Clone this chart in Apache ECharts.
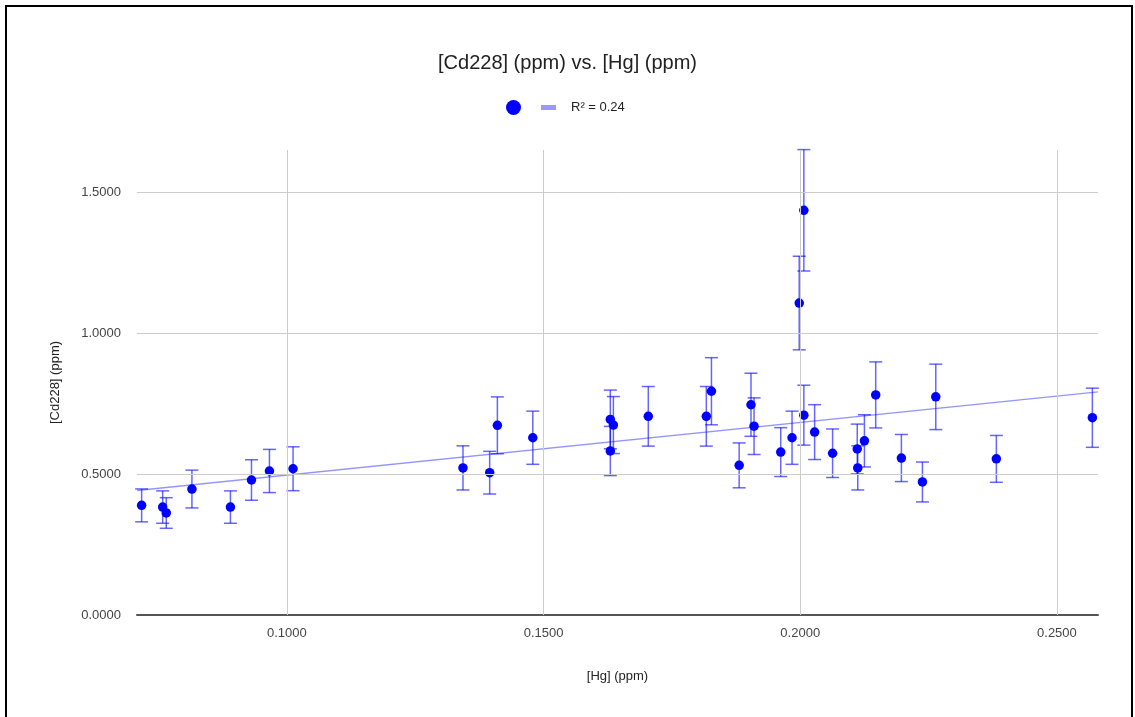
<!DOCTYPE html>
<html>
<head>
<meta charset="utf-8">
<script src="https://cdn.jsdelivr.net/npm/echarts@6/dist/echarts.min.js"></script>
<style>html,body{margin:0;padding:0;background:#fff}#c{width:1135px;height:717px}</style>
</head>
<body>
<div id="c"></div>
<script>
// Hg (ppm) values
const hg = [0.0717,0.0758,0.0765,0.0815,0.0890,0.0931,0.0966,0.1012,0.1343,0.1395,0.1410,0.1479,0.1630,0.1636,0.1630,0.1704,0.1817,0.1827,0.1881,0.1904,0.1910,0.1962,0.1984,0.1998,0.2007,0.2007,0.2028,0.2063,0.2111,0.2112,0.2125,0.2147,0.2197,0.2238,0.2264,0.2382,0.2569];
// Cd228 (ppm) values
const cd = [0.389,0.383,0.362,0.447,0.383,0.479,0.511,0.519,0.522,0.505,0.673,0.629,0.694,0.674,0.582,0.705,0.705,0.794,0.531,0.746,0.670,0.578,0.629,1.107,1.436,0.709,0.649,0.574,0.589,0.522,0.618,0.781,0.557,0.472,0.774,0.554,0.700];
const errorPercent = 0.15;
const xTicks = [0.1, 0.15, 0.2, 0.25];
const yTicks = [0, 0.5, 1.0, 1.5];
const xRange = [0.0708, 0.258];
const yRange = [0, 1.65];
const titleText = '[Cd228] (ppm) vs. [Hg] (ppm)';
const xName = '[Hg] (ppm)';
const yName = '[Cd228] (ppm)';
const seriesName = '[Cd228] (ppm)';
const trendName = 'R² = 0.24';

const pts = hg.map((x, i) => [x, cd[i]]);
// least squares linear trendline
const n = hg.length;
const mx = hg.reduce((a, b) => a + b, 0) / n;
const my = cd.reduce((a, b) => a + b, 0) / n;
let sxy = 0, sxx = 0;
for (let i = 0; i < n; i++) { sxy += (hg[i] - mx) * (cd[i] - my); sxx += (hg[i] - mx) ** 2; }
const slope = sxy / sxx, icpt = my - slope * mx;
const trend = xRange.map(x => [x, icpt + slope * x]);

const font = 'Liberation Sans, Arial, sans-serif';
const gridColor = '#cccccc';
const gridLines = [];
xTicks.forEach(v => gridLines.push({ xAxis: v }));
yTicks.forEach(v => { if (v !== 0) gridLines.push({ yAxis: v }); });

const chart = echarts.init(document.getElementById('c'));
chart.setOption({
  backgroundColor: '#fff',
  animation: false,
  textStyle: { fontFamily: font },
  title: {
    text: titleText, left: 'center', top: 48,
    textStyle: { fontFamily: font, fontSize: 20, fontWeight: 'normal', color: '#222' }
  },
  legend: [
    { data: [seriesName], icon: 'circle', itemWidth: 15, itemHeight: 15, left: 501, top: 95,
      formatter: () => '', textStyle: { fontSize: 13 } },
    { data: [trendName], icon: 'rect', itemWidth: 15, itemHeight: 5, left: 536, top: 96,
      itemGap: 0, textStyle: { fontFamily: font, fontSize: 13, color: '#222', padding: [0, 0, 0, 10] } }
  ],
  grid: { left: 137, right: 37, top: 150, bottom: 102 },
  xAxis: {
    type: 'value', min: xRange[0], max: xRange[1],
    name: xName, nameLocation: 'middle', nameGap: 55,
    nameTextStyle: { fontFamily: font, fontSize: 13, color: '#222' },
    axisLine: { show: true, onZero: false, lineStyle: { color: '#555', width: 2 } },
    axisTick: { show: false },
    splitLine: { show: false },
    axisLabel: { customValues: xTicks, formatter: v => v.toFixed(4), margin: 12,
      fontFamily: font, fontSize: 13, color: '#444' }
  },
  yAxis: {
    type: 'value', min: yRange[0], max: yRange[1],
    name: yName, nameLocation: 'middle', nameGap: 75,
    nameTextStyle: { fontFamily: font, fontSize: 13, color: '#222' },
    axisLine: { show: false }, axisTick: { show: false }, splitLine: { show: false },
    axisLabel: { customValues: yTicks, formatter: v => v.toFixed(4), margin: 16,
      fontFamily: font, fontSize: 13, color: '#444' }
  },
  graphic: [{
    type: 'rect', shape: { x: 6, y: 6, width: 1126, height: 730 },
    style: { fill: 'none', stroke: '#000', lineWidth: 2 }, silent: true, z: 100
  }],
  series: [
    {
      name: trendName, type: 'line', data: trend, symbol: 'none', z: 1,
      lineStyle: { color: 'rgba(0,0,255,0.42)', width: 1.3 },
      itemStyle: { color: 'rgba(0,0,255,0.4)' },
      markLine: {
        silent: true, symbol: 'none', label: { show: false },
        lineStyle: { color: gridColor, width: 1, type: 'solid' },
        emphasis: { disabled: true },
        data: gridLines
      }
    },
    {
      name: seriesName, type: 'custom', z: 2,
      data: pts,
      renderItem: (params, api) => {
        const x = api.value(0), y = api.value(1);
        const top = api.coord([x, y * (1 + errorPercent)]);
        const bot = api.coord([x, y * (1 - errorPercent)]);
        const hw = 6.5;
        const st = { stroke: 'rgba(0,0,255,0.6)', lineWidth: 1.5 };
        return { type: 'group', children: [
          { type: 'line', shape: { x1: top[0], y1: top[1], x2: bot[0], y2: bot[1] }, style: st },
          { type: 'line', shape: { x1: top[0] - hw, y1: top[1], x2: top[0] + hw, y2: top[1] }, style: st },
          { type: 'line', shape: { x1: bot[0] - hw, y1: bot[1], x2: bot[0] + hw, y2: bot[1] }, style: st }
        ] };
      },
      itemStyle: { color: '#0000ff' }
    },
    {
      name: seriesName, type: 'scatter', data: pts, symbolSize: 9.5, z: 3,
      itemStyle: { color: '#0000ff', opacity: 1 }
    }
  ]
});
</script>
</body>
</html>
